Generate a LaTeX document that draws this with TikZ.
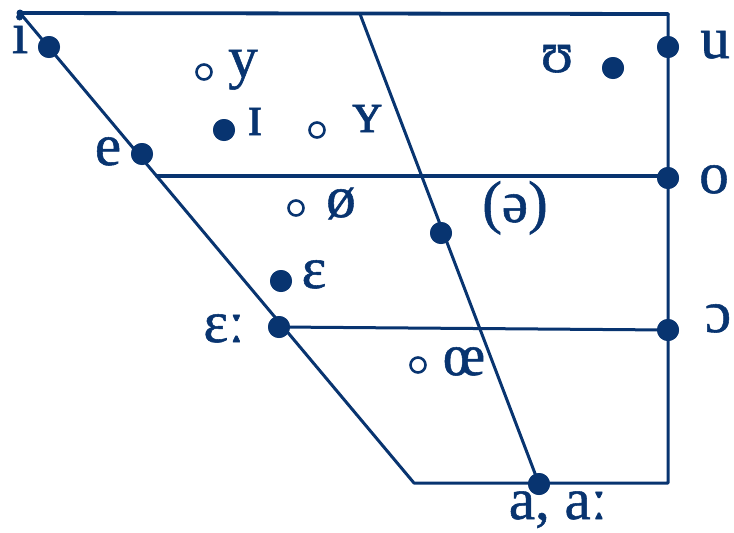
\documentclass[tikz,border=0pt]{standalone}
\usepackage{fontspec}
\setmainfont{Liberation Serif}
\newfontfamily\ipafont{Liberation Serif}[FakeBold=0.9]
\definecolor{navy}{RGB}{8,52,112}
\tikzset{
  chart/.style={draw=navy, line width=3pt, line cap=round, line join=round},
  thick chart/.style={chart, line width=3.8pt},
  full/.style={circle, fill=navy, inner sep=0pt, minimum size=22pt},
  hollow/.style={circle, draw=navy, line width=2.6pt, fill=white, inner sep=0pt, minimum size=15pt},
  lab/.style={text=navy, inner sep=0pt, anchor=base, font=\ipafont\fontsize{59}{62}\selectfont},
}
\begin{document}
\begin{tikzpicture}[x=1pt, y=-1pt]
\useasboundingbox (0,0) rectangle (734,533);
% frame coordinates
\coordinate (TL) at (20,13);
\coordinate (TM) at (360,14);
\coordinate (TR) at (668,14);
\coordinate (BL) at (414,483);
\coordinate (BR) at (668,483);
\coordinate (ML) at (157,176);
\coordinate (MR) at (668,176);
% filled dots
\node[full] (di) at (49,47) {};
\node[full] (de) at (142,154) {};
\node[full] (dI) at (224,130) {};
\node[full] (dU) at (613,68) {};
\node[full] (du) at (668,47) {};
\node[full] (do) at (668,178) {};
\node[full] (dschwa) at (441,233) {};
\node[full] (deps) at (281,281) {};
\node[full] (depsl) at (279,327) {};
\node[full] (dopen) at (668,330) {};
\node[full] (da) at (539,484) {};
% frame
\draw[thick chart] (TL) -- (TR);
\draw[chart] (TR) -- (BR) -- (BL) -- (TL);
\draw[chart] (TM) -- (da.center);
\draw[thick chart] (ML) -- (MR);
\draw[chart] (depsl.center) -- (dopen.center);
\fill[navy] (TL) circle (3.5pt);
% redraw dots on top of lines
\foreach \n in {di,de,dI,dU,du,do,dschwa,deps,depsl,dopen,da}
  \fill[navy] (\n) circle (11pt);
% hollow circles
\node[hollow] (cy) at (204,72) {};
\node[hollow] (cY) at (317,130) {};
\node[hollow] (coe) at (296,208) {};
\node[hollow] (cOE) at (418,365) {};
% labels
\node[lab] (li) at (20,53) {i};
\node[lab] (le) at (108,165) {e};
\node[lab] (ly) at (243,77) {y};
\node[lab] (lI) at (255,135) {ɪ};
\node[lab] (lY) at (367,132) {ʏ};
\node[lab] (lU) at (557,72) {ʊ};
\node[lab] (lu) at (715,58) {u};
\node[lab] (lo) at (714,193) {o};
\node[lab] (loe) at (341,217) {ø};
\node[lab] (lschwa) at (515,222) {(ə)};
\node[lab] (leps) at (314,288) {ɛ};
\node[lab] (lepsl) at (224,342) {ɛː};
\node[lab] (lopen) at (718,332) {ɔ};
\node[lab] (lOE) at (464,375) {œ};
\node[lab] (la) at (558,519) {a, aː};
\end{tikzpicture}
\end{document}
